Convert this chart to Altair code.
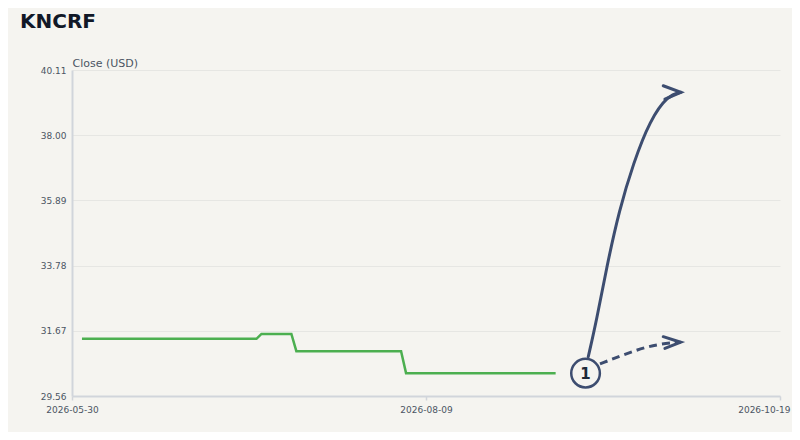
import altair as alt
import pandas as pd

TITLE = "KNCRF"
Y_TITLE = "Close (USD)"

# Close price series (breakpoints of the step-like series)
dates = ["2026-06-01", "2026-07-06", "2026-07-07", "2026-07-13",
         "2026-07-14", "2026-08-04", "2026-08-05", "2026-09-04"]
closes = [31.41, 31.41, 31.57, 31.57, 31.01, 31.01, 30.30, 30.30]

# y ticks and x ticks
y_ticks = [29.56, 31.67, 33.78, 35.89, 38.00, 40.11]
x_ticks = [(2026, 5, 30), (2026, 8, 9), (2026, 10, 19)]
x_domain = [(2026, 5, 30), (2026, 10, 19)]
y_domain = [29.56, 40.11]

# annotation marker
marker_date = ["2026-09-10"]
marker_value = [30.30]
marker_label = ["1"]

# solid (upside) arrow path
up_dates = ["2026-09-10T13:00:00Z", "2026-09-12T05:30:00Z", "2026-09-14T05:45:00Z",
            "2026-09-16T18:30:00Z", "2026-09-19T14:00:00Z", "2026-09-22T22:00:00Z",
            "2026-09-26T14:00:00Z", "2026-09-29T03:00:00Z"]
up_values = [30.83, 32.02, 33.74, 35.58, 37.09, 38.49, 39.30, 39.39]

# dashed (base) arrow path
base_dates = ["2026-09-12T21:30:00Z", "2026-09-17T13:40:00Z", "2026-09-22T06:00:00Z",
              "2026-09-26T06:30:00Z", "2026-09-29T02:00:00Z"]
base_values = [30.60, 30.89, 31.16, 31.27, 31.30]

# arrowheads (chevrons): upper arm end, tip, lower arm end
head_keys = ["up", "up", "up", "base", "base", "base"]
head_order = [0, 1, 2, 0, 1, 2]
head_dates = ["2026-09-25T14:00:00Z", "2026-09-29T03:00:00Z", "2026-09-25T22:00:00Z",
              "2026-09-25T14:00:00Z", "2026-09-29T02:00:00Z", "2026-09-25T22:00:00Z"]
head_values = [39.60, 39.39, 39.17, 31.48, 31.30, 31.10]

BG = "#f5f4f0"
GREEN = "#4caf50"
NAVY = "#3d4d70"
LABEL = "#4b5563"


def dt(t):
    return alt.DateTime(year=t[0], month=t[1], date=t[2], utc=True)


xscale = alt.Scale(type="utc", domain=[dt(t) for t in x_domain])
yscale = alt.Scale(domain=y_domain, nice=False, zero=False)

xaxis = alt.Axis(values=[dt(t) for t in x_ticks],
                 labelExpr="utcFormat(datum.value, '%Y-%m-%d')",
                 labelAlign=alt.ExprRef(expr="datum.index === 1 ? 'right' : 'center'"),
                 labelOffset=alt.ExprRef(expr="datum.index === 1 ? 10 : 0"),
                 grid=False, title=None, labelFlush=False, labelOverlap=False,
                 labelBound=False,
                 tickSize=4, labelPadding=5, tickColor="#d1d5db", tickWidth=1.5,
                 domainColor="#d1d5db", domainWidth=2, labelColor=LABEL,
                 labelFontSize=9, labelFont="DejaVu Sans")
yaxis = alt.Axis(values=y_ticks, format=".2f", grid=True, gridColor="#e6e6e3",
                 gridWidth=1, ticks=False, labelPadding=6, domainColor="#d1d5db",
                 domainWidth=2, labelColor=LABEL, labelFontSize=9,
                 labelFont="DejaVu Sans", title=Y_TITLE, titleAngle=0,
                 titleAlign="left", titleBaseline="alphabetic", titleX=0, titleY=-4,
                 titleFontSize=11, titleFontWeight="normal", titleColor=LABEL,
                 titleFont="DejaVu Sans")

price_df = pd.DataFrame({"date": dates, "close": closes})
price = alt.Chart(price_df).mark_line(color=GREEN, strokeWidth=2.5).encode(
    x=alt.X("date:T", scale=xscale, axis=xaxis),
    y=alt.Y("close:Q", scale=yscale, axis=yaxis),
)

up_df = pd.DataFrame({"date": up_dates, "v": up_values})
up = alt.Chart(up_df).mark_line(color=NAVY, strokeWidth=3, interpolate="basis",
                                strokeCap="round").encode(
    x="date:T", y="v:Q")

base_df = pd.DataFrame({"date": base_dates, "v": base_values})
base = alt.Chart(base_df).mark_line(color=NAVY, strokeWidth=3, interpolate="basis",
                                    strokeDash=[8, 5]).encode(
    x="date:T", y="v:Q")

head_df = pd.DataFrame({"key": head_keys, "o": head_order, "date": head_dates,
                        "v": head_values})
heads = alt.Chart(head_df).mark_line(color=NAVY, strokeWidth=3, strokeCap="round",
                                     strokeJoin="miter").encode(
    x="date:T", y="v:Q", detail="key:N", order="o:Q")

marker_df = pd.DataFrame({"date": marker_date, "v": marker_value, "t": marker_label})
circle = alt.Chart(marker_df).mark_point(shape="circle", size=820, filled=True,
                                         fill=BG, stroke=NAVY, strokeWidth=2.5,
                                         opacity=1).encode(
    x="date:T", y="v:Q")
num = alt.Chart(marker_df).mark_text(fontSize=15, fontWeight="bold", color="#1f2937",
                                     baseline="middle", align="center", dy=1,
                                     font="DejaVu Sans").encode(
    x="date:T", y="v:Q", text="t:N")

title_df = pd.DataFrame({"t": [TITLE]})
title = alt.Chart(title_df).mark_text(fontSize=20, fontWeight="bold", color="#111827",
                                      align="left", baseline="alphabetic",
                                      font="DejaVu Sans").encode(
    x=alt.value(-52), y=alt.value(-42), text="t:N")

chart = alt.layer(price, up, base, heads, circle, num, title).properties(
    width=708, height=326,
    autosize=alt.AutoSizeParams(type="none"),
    padding={"left": 64, "top": 62, "right": 12, "bottom": 36},
    background=BG,
).configure_view(stroke=None)

chart.save("out.html", embed_options={"renderer": "svg", "actions": False})
